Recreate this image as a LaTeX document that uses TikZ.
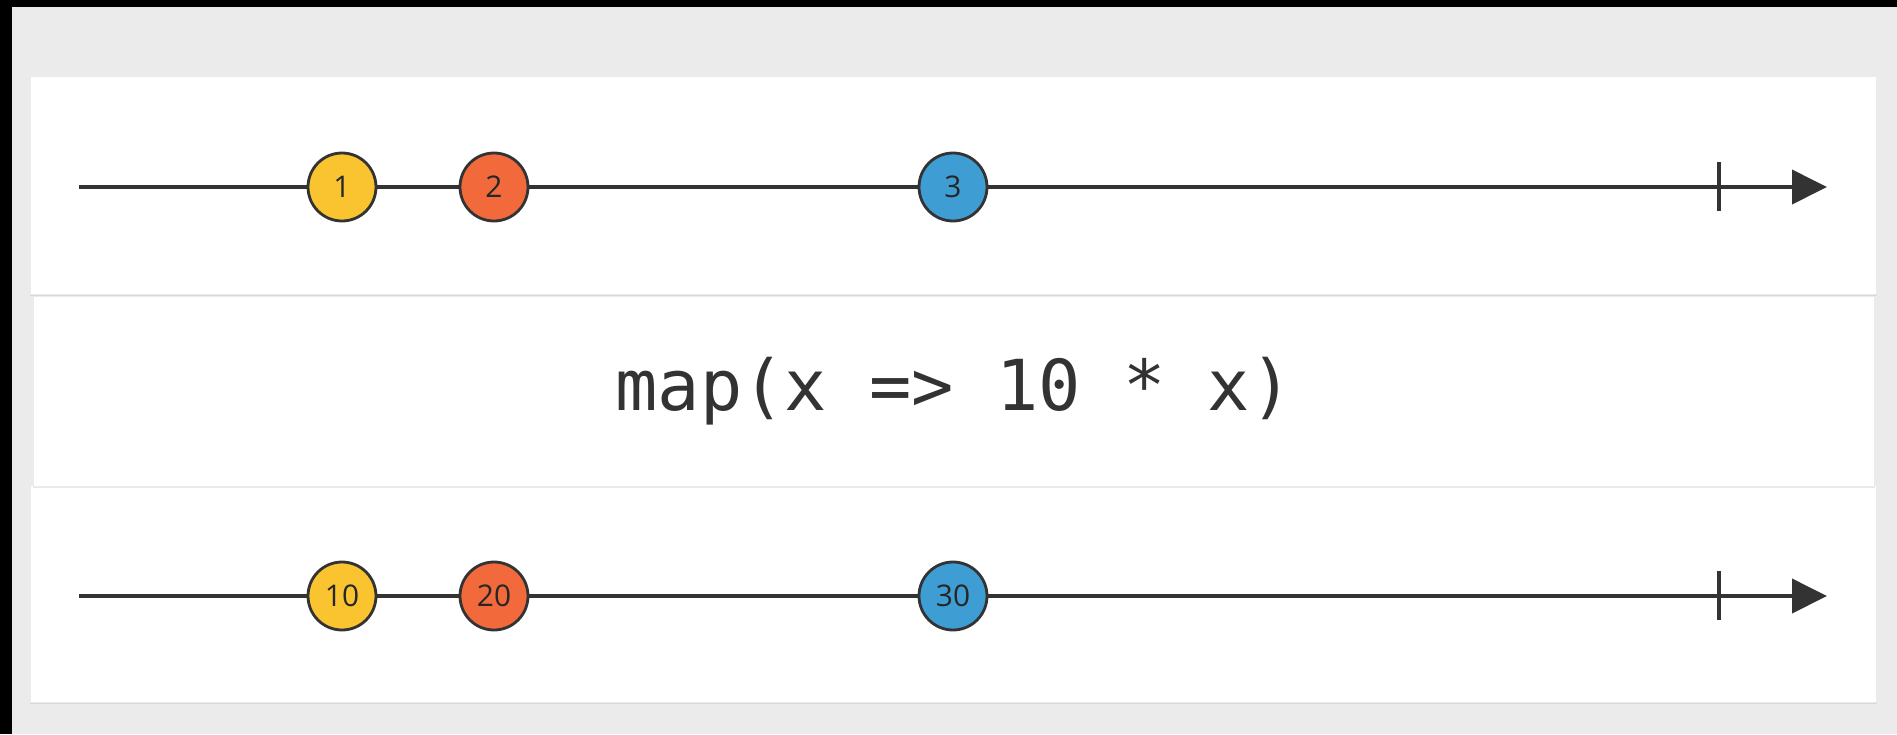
\documentclass[tikz,border=0pt]{standalone}
\usepackage{fontspec}
\newfontfamily\codefont{DejaVu Sans Mono}
\newfontfamily\marblefont{Open Sans}
\usetikzlibrary{arrows.meta,shadows}
\definecolor{ink}{RGB}{51,51,51}
\definecolor{pagegrey}{RGB}{235,235,235}
\definecolor{marbleyellow}{RGB}{250,196,48}
\definecolor{marbleorange}{RGB}{242,106,60}
\definecolor{marbleblue}{RGB}{62,158,212}

\begin{document}
\begin{tikzpicture}[x=0.02cm,y=-0.02cm]
  \tikzstyle{panel}=[draw=black!8,line width=0.4pt,fill=white,inner sep=0pt,
    drop shadow={shadow xshift=0pt,shadow yshift=-1.2pt,opacity=.18}]
  \tikzstyle{marble}=[circle,draw=ink,line width=1.6pt,minimum size=1.36cm,inner sep=0pt,
    text=black!85,font=\marblefont\fontsize{17}{17}\selectfont]
  \tikzstyle{flow}=[-{Triangle[length=0.7cm,width=0.68cm]},ink,line width=2.2pt]
  \tikzstyle{done}=[ink,line width=1.8pt]

  % -- Page --
  \useasboundingbox (0,0) rectangle (1897,734);
  \fill[pagegrey] (0,0) rectangle (1897,734);
  \fill[black] (0,0) rectangle (12,734);
  \fill[black] (0,0) rectangle (1897,7);

  % -- Panels --
  \node[panel,minimum width=36.94cm,minimum height=4.36cm] (inpanel) at (953.5,185) {};
  \node[panel,minimum width=36.94cm,minimum height=4.34cm] (outpanel) at (953.5,593.5) {};
  \node[panel,minimum width=36.84cm,minimum height=3.8cm,text=ink,
    font=\codefont\fontsize{40}{40}\selectfont] (op) at (954,391) {map(x => 10 * x)};

  % -- Input stream --
  \coordinate (instart) at (79,187);
  \coordinate (inend) at (1827,187);
  \draw[flow] (instart) -- (inend);
  \draw[done] (1719,162) -- (1719,211);
  \node[marble,fill=marbleyellow] (in1) at (342,187) {1};
  \node[marble,fill=marbleorange] (in2) at (494,187) {2};
  \node[marble,fill=marbleblue] (in3) at (953,187) {3};

  % -- Output stream --
  \coordinate (outstart) at (79,596);
  \coordinate (outend) at (1827,596);
  \draw[flow] (outstart) -- (outend);
  \draw[done] (1719,571) -- (1719,620);
  \node[marble,fill=marbleyellow] (out1) at (342,596) {10};
  \node[marble,fill=marbleorange] (out2) at (494,596) {20};
  \node[marble,fill=marbleblue] (out3) at (953,596) {30};
\end{tikzpicture}
\end{document}
